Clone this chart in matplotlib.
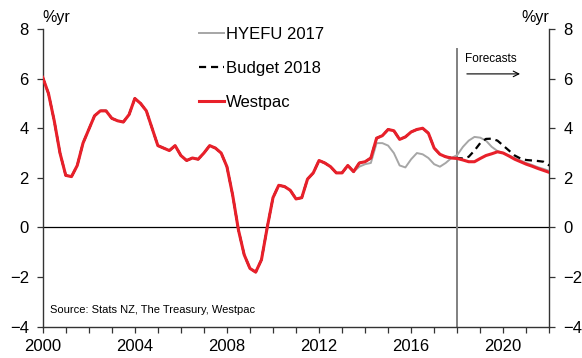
import numpy as np
import matplotlib
matplotlib.use("Agg")
import matplotlib.pyplot as plt

plt.rcParams['font.family'] = ['Liberation Sans', 'DejaVu Sans']

# Quarterly annual average growth, 2000Q1 .. 2022Q1
start_year = 2000.0
westpac = [
    6.05, 5.4, 4.3, 3.0,
    2.1, 2.05, 2.5, 3.4,
    3.95, 4.5, 4.7, 4.7,
    4.4, 4.3, 4.25, 4.55,
    5.2, 5.0, 4.7, 4.0,
    3.3, 3.2, 3.1, 3.3,
    2.9, 2.7, 2.8, 2.75,
    3.0, 3.3, 3.2, 3.0,
    2.45, 1.3, -0.1, -1.1,
    -1.65, -1.8, -1.3, 0.0,
    1.2, 1.7, 1.65, 1.5,
    1.15, 1.2, 1.95, 2.2,
    2.7, 2.6, 2.45, 2.2,
    2.2, 2.5, 2.25, 2.6,
    2.65, 2.8, 3.6, 3.7,
    3.95, 3.9, 3.55, 3.65,
    3.85, 3.95, 4.0, 3.8,
    3.2, 2.95, 2.85, 2.8,
    2.78, 2.72, 2.65, 2.65,
    2.78, 2.9, 2.97, 3.05,
    3.0, 2.88, 2.75, 2.65,
    2.55, 2.47, 2.38, 2.3,
    2.22,
]

# HYEFU 2017 departs from the history in 2013Q4
hyefu_tail = [
    2.45, 2.55, 2.6, 3.4, 3.4, 3.3, 3.0, 2.5, 2.42,
    2.75, 3.0, 2.95, 2.8, 2.55, 2.45, 2.6, 2.8,
    2.92, 3.25, 3.5, 3.65, 3.62, 3.5, 3.25, 3.08,
    3.0, 2.9, 2.8, 2.7, 2.6, 2.52, 2.43, 2.36, 2.28,
]
hyefu = westpac[:len(westpac) - len(hyefu_tail)] + hyefu_tail

# Budget 2018 departs from the history in 2017Q4
budget_tail = [
    2.8, 2.8, 2.78, 2.85, 3.1, 3.4, 3.57, 3.58, 3.5,
    3.3, 3.1, 2.9, 2.78, 2.72, 2.7, 2.68, 2.65, 2.5,
]
budget = westpac[:len(westpac) - len(budget_tail)] + budget_tail

dates = start_year + 0.25 * np.arange(len(westpac))

forecast_start = 2018.0
y_ticks = [-4, -2, 0, 2, 4, 6, 8]
x_major = [2000, 2004, 2008, 2012, 2016, 2020]

fig = plt.figure(figsize=(5.82, 3.58), dpi=100)
ax = fig.add_axes([0.0734, 0.0874, 0.8704, 0.8316])

ax.plot(dates, hyefu, color='#a6a6a6', lw=1.4, label='HYEFU 2017', zorder=3)
ax.plot(dates, budget, color='black', lw=1.6, ls=(0, (3.2, 2.2)),
        label='Budget 2018', zorder=4)
ax.plot(dates, westpac, color='#e8202a', lw=2.2, label='Westpac', zorder=5)

ax.axhline(0, color='black', lw=0.9, zorder=2)
ax.plot([forecast_start, forecast_start], [-4, 7.2], color='#808080',
        lw=1.4, zorder=2, clip_on=False)

ax.set_xlim(2000, 2022)
ax.set_ylim(-4, 8)

ax.set_xticks(x_major)
ax.set_xticks(np.arange(2000, 2023, 1), minor=True)
ax.set_yticks(y_ticks)

for s in ['top']:
    ax.spines[s].set_visible(False)
for s in ['left', 'right', 'bottom']:
    ax.spines[s].set_color('#333333')
    ax.spines[s].set_linewidth(1.0)

ax.tick_params(axis='x', which='both', direction='out', length=4,
               width=0.9, color='#333333', labelsize=12, pad=5)
ax.tick_params(axis='y', which='major', direction='out', length=4,
               width=0.9, color='#333333', labelsize=12, pad=6,
               left=True, right=True, labelleft=True, labelright=True)

ax.text(0.0, 1.015, '%yr', transform=ax.transAxes, fontsize=11.5,
        ha='left', va='bottom')
ax.text(1.0, 1.015, '%yr', transform=ax.transAxes, fontsize=11.5,
        ha='right', va='bottom')

ax.text(2018.33, 6.8, 'Forecasts', fontsize=8.5, ha='left', va='center')
ax.annotate('', xy=(2020.85, 6.19), xytext=(2018.3, 6.19),
            arrowprops=dict(arrowstyle='->', color='black', lw=0.8))

ax.text(2000.33, -3.32, 'Source: Stats NZ, The Treasury, Westpac',
        fontsize=8, ha='left', va='center')

leg = ax.legend(loc='upper left', bbox_to_anchor=(0.295, 1.03),
                frameon=False, fontsize=12, handlelength=1.5,
                handletextpad=0.15, labelspacing=1.15, borderaxespad=0)

fig.savefig('out.png', dpi=100)
